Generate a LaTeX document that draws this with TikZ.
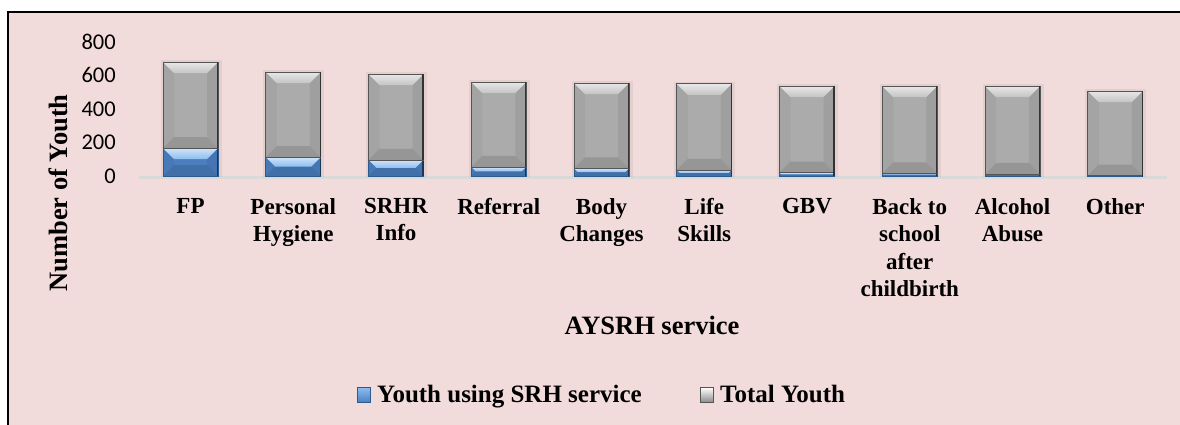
\documentclass[tikz,border=0pt]{standalone}
\usepackage{fontspec}
\setmainfont{Liberation Serif}
\newfontfamily\calib{Carlito}
\definecolor{chartbg}{HTML}{F2DCDB}
\definecolor{barblue}{HTML}{4A7EBF}
\definecolor{bluelight}{HTML}{8DBDF0}
\definecolor{blueedge}{HTML}{2D5A8C}
\definecolor{bargray}{HTML}{ABABAB}
\definecolor{graylight}{HTML}{C4C4C4}
\definecolor{grayedge}{HTML}{555555}
\definecolor{axisgray}{HTML}{D9D9D9}
\begin{document}
\begin{tikzpicture}[x=1pt,y=-1pt,
	catlab/.style={font=\fontsize{23}{27.5}\selectfont\bfseries,
		align=center,anchor=north,inner sep=0pt},
	ticklab/.style={font=\calib\fontsize{22.5}{27}\selectfont,
		anchor=base east,inner sep=0pt},
	axtitle/.style={font=\fontsize{26.5}{30}\selectfont\bfseries,inner sep=0pt},
	legtext/.style={font=\fontsize{25}{30}\selectfont\bfseries,
		anchor=base west,inner sep=0pt},
	legmark/.style={minimum width=13pt,minimum height=15pt,inner sep=0pt,
		line width=.6pt}]
	\useasboundingbox (0,0) rectangle (1180,425);
	\fill[chartbg] (8,12) rectangle (1180,425);
	\draw[line width=2pt] (8,425) |- (1180,12);
	% value axis
	\foreach \v in {0,200,...,800} \path
	(116,{183-0.1675*\v}) node[ticklab] (t\v) {\v};
	\draw[axisgray,line width=3pt] (139,177.5)--(1167,177.5);
	% bars: index / total top / blue top / label
	\foreach \i/\t/\b/\lab in {0/680/167/FP,
		1/620/113/{Personal\\Hygiene}, 2/608/96/{SRHR\\Info},
		3/561/54/Referral, 4/555/45/{Body\\Changes},
		5/550/36/{Life\\Skills}, 6/537/20/GBV,
		7/537/16/{Back to\\school\\after\\childbirth},
		8/537/12/{Alcohol\\Abuse}, 9/507/2/Other}{
		\pgfmathsetmacro\xc{190.5+102.75*\i}
		\pgfmathsetmacro\ya{176-0.1675*\b}
		\pgfmathsetmacro\yt{176-0.1675*\t}
		\fill[black,opacity=.06] (\xc-30,\yt-2) rectangle (\xc+31,177);
		\foreach \lo/\hi/\base/\light/\edge in
		{176/\ya/barblue/bluelight/blueedge,
			\ya/\yt/bargray/graylight/grayedge}{
			\pgfmathsetmacro\d{min(11,(\lo-\hi)/2)}
			\fill[\base] (\xc-27.5,\lo) rectangle (\xc+27.5,\hi);
			\fill[\base!96!black] (\xc-27.5,\hi)--(\xc-27.5+\d,\hi+\d)
			--(\xc-27.5+\d,\lo-\d)--(\xc-27.5,\lo)--cycle;
			\fill[\base!93!black] (\xc+27.5,\hi)--(\xc+27.5-\d,\hi+\d)
			--(\xc+27.5-\d,\lo-\d)--(\xc+27.5,\lo)--cycle;
			\fill[\base!88!black] (\xc-27.5,\lo)--(\xc-27.5+\d,\lo-\d)
			--(\xc+27.5-\d,\lo-\d)--(\xc+27.5,\lo)--cycle;
			\shade[top color=\light!40!white,bottom color=\light]
			(\xc-27.5,\hi)--(\xc+27.5,\hi)
			--(\xc+27.5-\d,\hi+\d)--(\xc-27.5+\d,\hi+\d)--cycle;
			\draw[\edge,line width=.8pt] (\xc-27.5,\lo) rectangle (\xc+27.5,\hi);
			\draw[\edge!60!black,line width=1.4pt] (\xc+27,\lo)--(\xc+27,\hi);
		}
		\node[catlab] (c\i) at (\xc,198) {\lab};
	}
	% titles
	\node[axtitle,rotate=90] (ytitle) at (58,193) {Number of Youth};
	\node[axtitle,anchor=base] (xtitle) at (652,334) {AYSRH service};
	% legend
	\node[legmark,top color=bluelight,bottom color=barblue,draw=blueedge]
	(mblue) at (363.5,395) {};
	\node[legtext] (lblue) at (377,402.5) {Youth using SRH service};
	\node[legmark,top color=white,bottom color=bargray!80!black,draw=grayedge]
	(mgray) at (706.5,395) {};
	\node[legtext] (lgray) at (720,402.5) {Total Youth};
\end{tikzpicture}
\end{document}
